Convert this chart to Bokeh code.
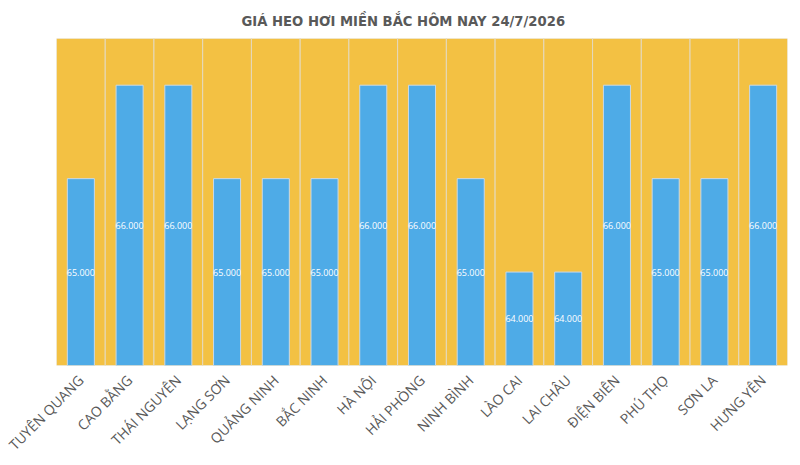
from bokeh.plotting import figure
from bokeh.models import ColumnDataSource, Range1d, Title, LinearAxis, FixedTicker
from bokeh.core.properties import value
from bokeh.embed import file_html
from bokeh.resources import INLINE
import math

provinces = ["TUYÊN QUANG", "CAO BẰNG", "THÁI NGUYÊN", "LẠNG SƠN", "QUẢNG NINH",
             "BẮC NINH", "HÀ NỘI", "HẢI PHÒNG", "NINH BÌNH", "LÀO CAI",
             "LAI CHÂU", "ĐIỆN BIÊN", "PHÚ THỌ", "SƠN LA", "HƯNG YÊN"]
prices = [65000, 66000, 66000, 65000, 65000, 65000, 66000, 66000, 65000, 64000,
          64000, 66000, 65000, 65000, 66000]
y_min = 63000
y_max = 66500
title_text = "GIÁ HEO HƠI MIỀN BẮC HÔM NAY 24/7/2026"

n = len(provinces)
idx = list(range(n))
labels = [f"{v:,}".replace(",", ".") for v in prices]
src = ColumnDataSource(dict(
    x=idx, name=provinces, top=prices, label=labels,
    mid=[(y_min + v) / 2 for v in prices],
    bg=[y_max] * n,
))

p = figure(x_range=Range1d(-0.5, n - 0.5), y_range=Range1d(y_min, y_max),
           width=800, height=465, output_backend="svg", toolbar_location=None,
           min_border_left=56, min_border_right=13, min_border_top=38, min_border_bottom=100)
p.title = Title(text=title_text, align="left", text_font="DejaVu Sans",
                text_font_size="13.2px", text_font_style="bold", text_color="#595959",
                standoff=19, offset=185)
p.outline_line_color = None
p.background_fill_color = "white"

p.vbar(x="x", top="bg", bottom=y_min, width=1.0, source=src,
       fill_color="#F3C143", line_color="#E4D9BE", line_width=1)
p.vbar(x="x", top="top", bottom=y_min, width=0.555, source=src,
       fill_color="#4EABE7", line_color="#C9D9E6", line_width=1)
p.text(x="x", y="mid", text="label", source=src, text_align="center",
       text_baseline="middle", text_color="white", text_font_size="9px",
       text_font=value("Open Sans"))

p.yaxis.visible = False
p.xaxis.visible = False
p.xgrid.grid_line_color = None
p.ygrid.grid_line_color = None

# category label axis
p.extra_x_ranges = {"lab": Range1d(-0.5, n - 0.5)}
lab_axis = LinearAxis(x_range_name="lab", ticker=FixedTicker(ticks=idx),
                      major_label_overrides={i: name for i, name in enumerate(provinces)})
lab_axis.axis_line_color = None
lab_axis.major_tick_line_color = None
lab_axis.minor_tick_line_color = None
lab_axis.major_label_orientation = math.pi / 4
lab_axis.major_label_text_font = "Open Sans"
lab_axis.major_label_text_font_size = "14px"
lab_axis.major_label_text_color = "#595959"
lab_axis.major_label_standoff = 6
p.add_layout(lab_axis, "below")

open("out.html", "w").write(file_html(p, INLINE))
